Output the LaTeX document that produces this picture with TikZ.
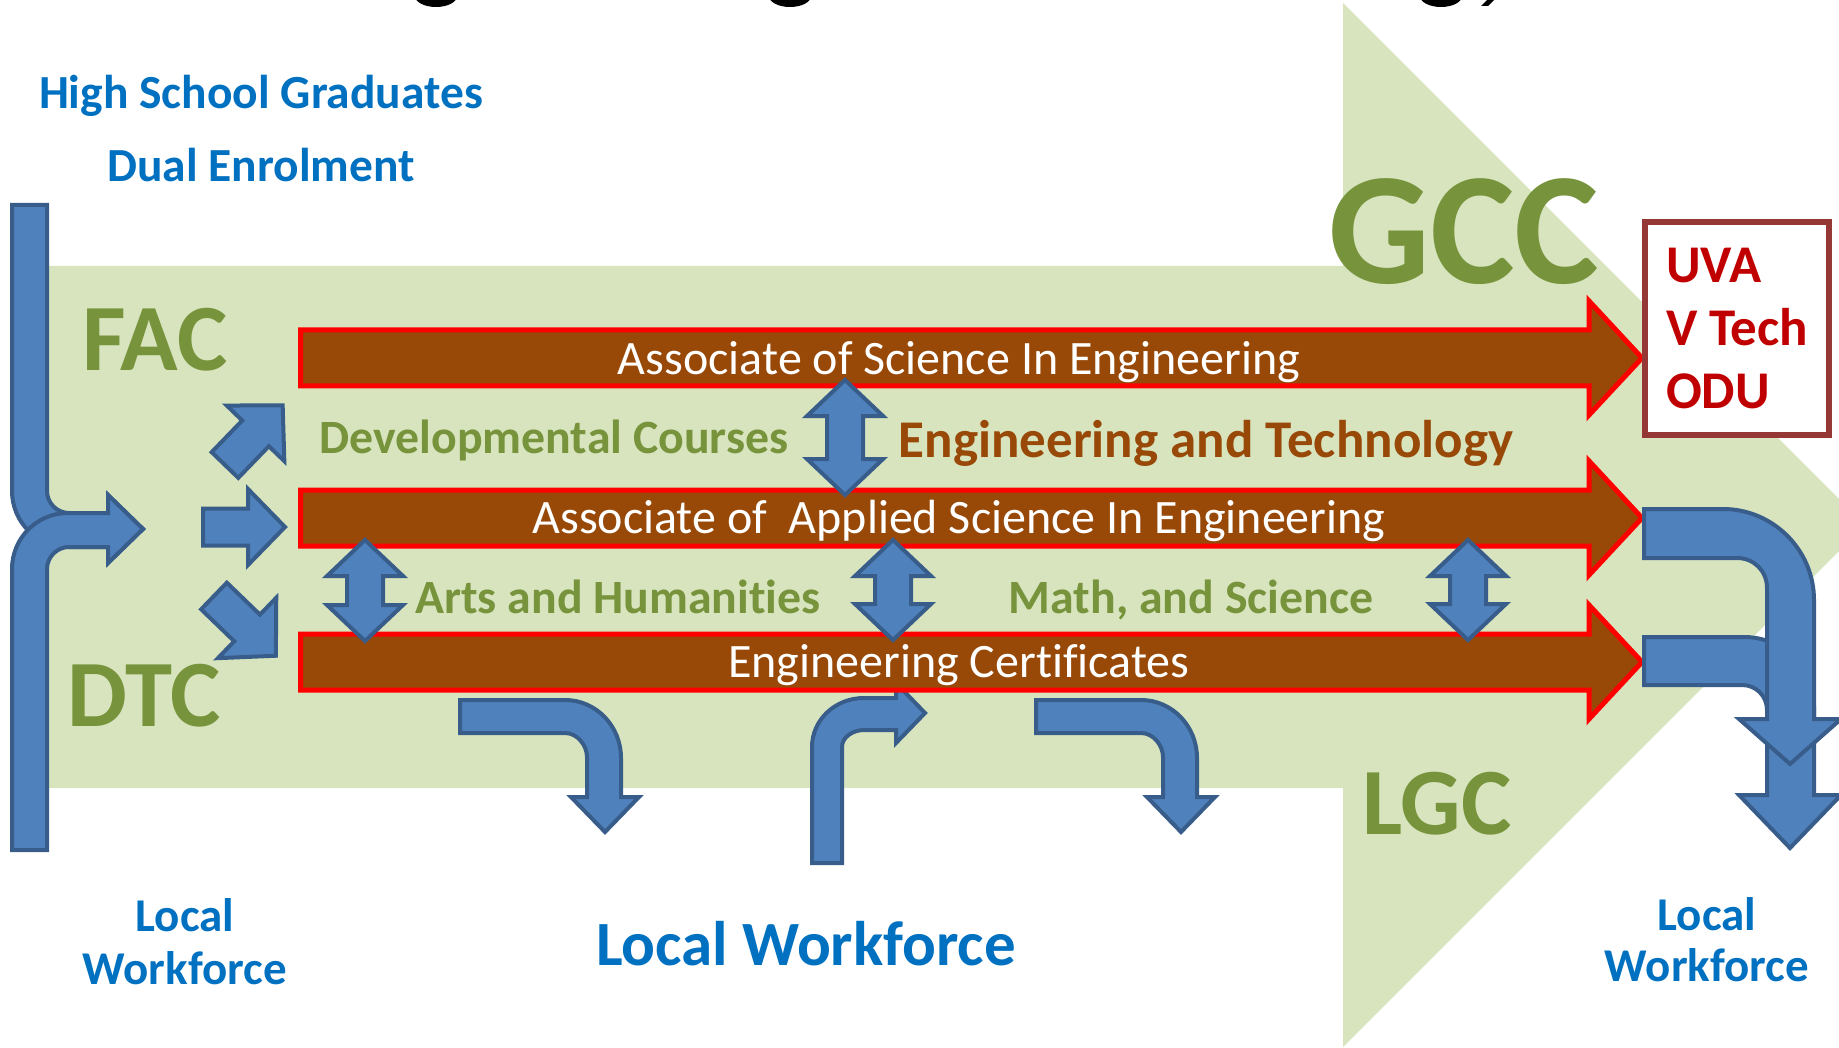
\documentclass[tikz,border=0pt]{standalone}
\usepackage{fontspec}
\setmainfont{Carlito}[Ligatures=NoCommon]
\definecolor{bggreen}{HTML}{D7E4BD}
\definecolor{olivetx}{HTML}{77933C}
\definecolor{brfill}{HTML}{984807}
\definecolor{bfill}{HTML}{4F81BD}
\definecolor{bline}{HTML}{385D8A}
\definecolor{btext}{HTML}{0070C0}
\definecolor{dred}{HTML}{C00000}
\definecolor{boxline}{HTML}{953735}
\tikzset{
  blueshape/.style={fill=bfill, draw=bline, line width=4pt, line join=miter},
  brarrow/.style={fill=brfill, draw=red, line width=5pt, line join=miter},
  txt/.style={inner sep=0pt, outer sep=0pt, anchor=base},
  fs/.style={font=\fontsize{#1}{#1}\selectfont},
  fb/.style={font=\bfseries\fontsize{#1}{#1}\selectfont},
}
% tail (x,y), angle, length, shaft half width, head half width, head length
\newcommand\BlkArrow[6]{\begin{scope}[shift={(#1)},rotate=#2]
  \path[blueshape] (0,-#4) -- ({#3-#6},-#4) -- ({#3-#6},-#5) -- (#3,0) -- ({#3-#6},#5) -- ({#3-#6},#4) -- (0,#4) -- cycle;
\end{scope}}
% centre x, top y, bottom y
\newcommand\DblArrow[3]{%
  \path[blueshape] (#1,#2) -- ({#1+38},{#2+36}) -- ({#1+18},{#2+36}) -- ({#1+18},{#3-36}) -- ({#1+38},{#3-36}) -- (#1,#3)
   -- ({#1-38},{#3-36}) -- ({#1-18},{#3-36}) -- ({#1-18},{#2+36}) -- ({#1-38},{#2+36}) -- cycle;}
% centre y of a brown arrow
\newcommand\BrArrow[1]{%
  \path[brarrow] (300.5,{#1-28}) -- (1589,{#1-28}) -- (1589,{#1-57}) -- (1642,#1) -- (1589,{#1+57}) -- (1589,{#1+28}) -- (300.5,{#1+28}) -- cycle;}
\begin{document}
\begin{tikzpicture}[x=1pt,y=-1pt]
\useasboundingbox (0,0) rectangle (1839,1048);
\clip (0,0) rectangle (1839,1048);
% background green arrow
\fill[bggreen] (47,266) -- (1343,266) -- (1343,3) -- (1865,525) -- (1343,1047) -- (1343,788) -- (47,788) -- cycle;
% fragments of the cut-off title
\fill[black] (436,-4) ellipse [x radius=21, y radius=11];
\fill[black] (790,-4) ellipse [x radius=21, y radius=11];
\fill[black] (1441,-4) ellipse [x radius=21, y radius=11];
\fill[black] (1487,0) -- (1494,0) -- (1488,6) -- (1481,6) -- cycle;
% middle bottom bent arrow (under the brown arrow)
\path[blueshape] (812,863) -- (842,863) -- (842,747) .. controls (842,737) and (853,730) .. (864,730) -- (896,730) -- (896,743) -- (925,713) -- (896,683) -- (896,698) -- (864,698) .. controls (835,698) and (812,720) .. (812,747) -- cycle;
% brown arrows
\BrArrow{358}
\BrArrow{518}
\BrArrow{662}
% left split bar
\path[blueshape] (12,205) -- (47,205) -- (47,491) .. controls (47,503) and (57,513) .. (69,513) -- (108,513) -- (108,495) -- (143,529) -- (108,563) -- (108,547) -- (68,547) .. controls (37,547) and (12,522) .. (12,491) -- cycle;
\path[blueshape] (12,850) -- (47,850) -- (47,569) .. controls (47,557) and (57,547) .. (69,547) -- (108,547) -- (108,563) -- (143,529) -- (108,495) -- (108,513) -- (68,513) .. controls (37,513) and (12,538) .. (12,569) -- cycle;
% three small arrows
\BlkArrow{225,465}{46}{83}{18.5}{40}{39}
\BlkArrow{203,527}{0}{82}{18.5}{38}{37}
\BlkArrow{214,596}{-44}{86}{18.5}{42}{40}
% double arrows
\DblArrow{845}{380}{495}
\DblArrow{365}{540}{641}
\DblArrow{893}{540}{640}
\DblArrow{1468}{540}{640}
% bottom bent arrows
\path[blueshape] (460,700) -- (565,700) .. controls (596,700) and (621,726) .. (621,758) -- (621,797) -- (639,797) -- (605,832) -- (571,797) -- (587,797) -- (587,757) .. controls (587,745) and (577,733) .. (565,733) -- (460,733) -- cycle;
\begin{scope}[xshift=576pt]
\path[blueshape] (460,700) -- (565,700) .. controls (596,700) and (621,726) .. (621,758) -- (621,797) -- (639,797) -- (605,832) -- (571,797) -- (587,797) -- (587,757) .. controls (587,745) and (577,733) .. (565,733) -- (460,733) -- cycle;
\end{scope}
% right bent arrows
\path[blueshape] (1644,637) -- (1744,637) .. controls (1783,637) and (1814,668) .. (1814,707) -- (1814,795) -- (1841,795) -- (1790,848) -- (1739,795) -- (1767,795) -- (1767,710) .. controls (1767,696) and (1756,685) .. (1742,685) -- (1644,685) -- cycle;
\path[blueshape] (1644,509) -- (1723,509) .. controls (1773,509) and (1814,550) .. (1814,600) -- (1814,719) -- (1841,719) -- (1790,764) -- (1739,719) -- (1767,719) -- (1767,588) .. controls (1767,571) and (1754,558) .. (1737,558) -- (1644,558) -- cycle;
% university box
\path[draw=boxline, fill=white, line width=6pt] (1645,222) rectangle (1829,435);
\node[txt, anchor=base west, fb=53, text=dred] (uva) at (1666,283) {UVA};
\node[txt, anchor=base west, fb=53, text=dred] (vtech) at (1666,346) {V Tech};
\node[txt, anchor=base west, fb=53, text=dred] (odu) at (1666,409) {ODU};
% texts
\node[txt, fb=47.5, text=btext] (hs) at (261,109) {High School Graduates};
\node[txt, fb=47.5, text=btext] (de) at (261,182) {Dual Enrolment};
\node[txt, fb=95, text=olivetx] (fac) at (155,371) {FAC};
\node[txt, fb=95, text=olivetx] (dtc) at (144,726) {DTC};
\node[txt, fb=160, text=olivetx] (gcc) at (1464,284) {GCC};
\node[txt, fb=95, text=olivetx] (lgc) at (1437,834) {LGC};
\node[txt, fs=48, text=white] (as) at (959,374) {Associate of Science In Engineering};
\node[txt, fs=48, text=white] (aas) at (959,533) {Associate of\ \ Applied Science In Engineering};
\node[txt, fs=48, text=white] (cert) at (959,677) {Engineering Certificates};
\node[txt, fb=47.8, text=olivetx] (dev) at (554,453) {Developmental Courses};
\node[txt, fb=53, text=brfill] (et) at (1206,457) {Engineering and Technology};
\node[txt, fb=47.8, text=olivetx] (arts) at (618,613) {Arts and Humanities};
\node[txt, fb=47.8, text=olivetx] (math) at (1191,613) {Math, and Science};
\node[txt, fb=63, text=btext] (lw) at (806,965) {Local Workforce};
\node[txt, fb=47, text=btext] (lwl1) at (185,931) {Local};
\node[txt, fb=47, text=btext] (lwl2) at (185,984) {Workforce};
\node[txt, fb=47, text=btext] (lwr1) at (1707,930) {Local};
\node[txt, fb=47, text=btext] (lwr2) at (1707,981) {Workforce};
\end{tikzpicture}
\end{document}
